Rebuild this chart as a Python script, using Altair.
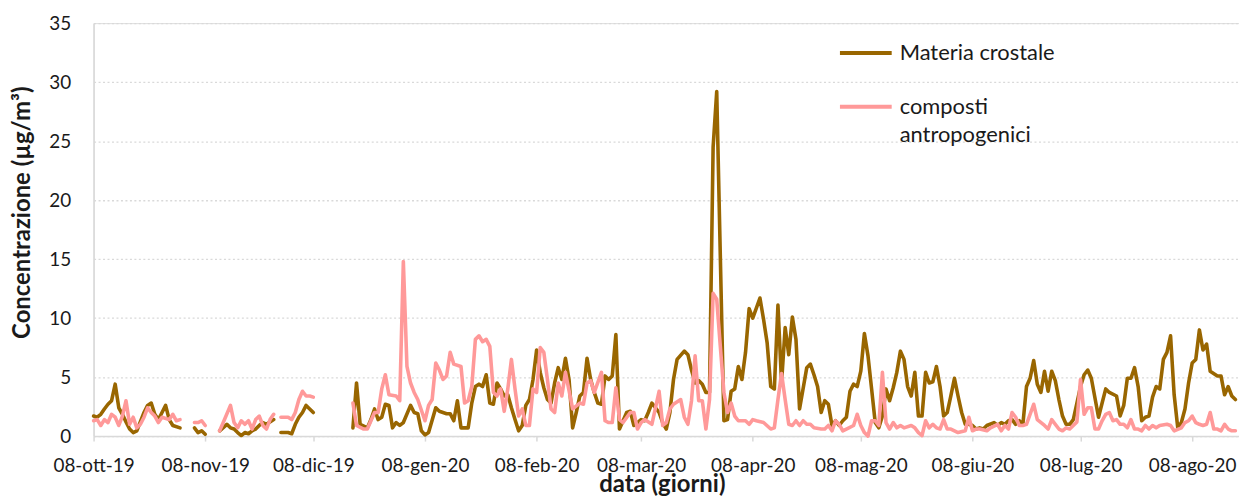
import altair as alt
import pandas as pd

# ---------------- data ----------------
START = "2019-10-08"          # first day of the series (day 0)
END = "2020-08-21"            # right end of the date axis
SERIES = ["Materia crostale", "composti antropogenici"]
COLORS = ["#996600", "#FF9999"]
GAP_DAYS = [26, 33, 51, 66]   # days without measurements (lines break there)

CRUSTAL_DAY = [0, 1, 2, 3, 4, 5, 6, 7, 8, 9, 10, 11, 12, 14, 15, 16, 17, 18, 19, 20, 21, 22, 24,
               28, 29, 30, 31,
               35, 37, 38, 39, 40, 41, 42, 43, 44, 45, 46, 47, 48, 50,
               52, 54, 55, 56, 57, 58, 59, 60, 61,
               72, 73, 74, 76, 77, 78, 79, 80, 81, 82, 83, 84, 85, 86, 88, 89, 90, 91, 92, 93, 95, 96,
               98, 99, 100, 101, 102, 104, 105, 106, 107, 108, 109, 110, 111, 112, 113, 114, 115, 116,
               117, 118, 119, 120, 121, 122, 123, 124, 125, 126, 127, 128, 129, 130, 131, 132, 133, 134,
               135, 136, 137, 138, 139, 140, 141, 142, 143, 144, 145, 146, 148, 149, 150, 151, 152, 153,
               154, 155, 156, 157, 158, 159, 160, 161, 162, 164, 165, 166, 167, 168, 169, 170, 171, 172,
               173, 175, 176, 177, 178, 179, 180, 181, 182, 183, 185, 186, 187, 188, 189, 190, 191, 192,
               193, 194, 195, 196, 198, 199, 200, 201, 202, 203, 204, 205, 206, 207, 208, 209, 210, 211,
               212, 213, 214, 215, 216, 217, 218, 219, 220, 221, 222, 223, 224, 225, 226, 227, 228, 229,
               230, 231, 232, 233, 234, 235, 236, 237, 238, 239, 240, 241, 242, 243, 244, 245, 246, 247,
               248, 250, 251, 252, 253, 254, 255, 256, 257, 258, 259, 260, 261, 262, 263, 264, 265, 266,
               267, 268, 269, 270, 271, 272, 273, 274, 275, 276, 277, 279, 280, 281, 282, 284, 285, 286,
               287, 288, 289, 290, 291, 292, 293, 294, 295, 296, 297, 298, 299, 300, 301, 302, 303, 304,
               305, 306, 307, 308, 309, 310, 312, 313, 314, 315, 316, 317]
CRUSTAL_VAL = [1.7, 1.6, 1.85, 2.3, 2.7, 3.0, 4.4, 2.4, 1.85, 1.2, 0.6, 0.3, 0.45, 2.0, 2.6, 2.8, 1.85, 1.4, 2.0, 2.6, 1.4, 0.9, 0.7,
               0.7, 0.3, 0.45, 0.15,
               0.45, 1.0, 0.7, 0.6, 0.3, 0.05, 0.3, 0.2, 0.45, 0.6, 0.9, 1.15, 1.0, 1.4,
               0.3, 0.3, 0.2, 1.0, 1.6, 2.0, 2.6, 2.3, 2.0,
               0.7, 4.5, 1.0, 0.7, 1.4, 2.3, 1.4, 1.6, 2.7, 2.6, 0.7, 1.15, 0.9, 1.15, 2.6, 2.0, 1.9, 0.45, 0.1, 0.3, 2.4, 2.1,
               1.9, 1.9, 1.3, 3.0, 0.7, 0.7, 2.8, 4.2, 4.4, 4.2, 5.2, 2.8, 2.7, 4.5, 4.0, 3.4, 3.5, 2.4,
               1.4, 0.45, 0.9, 2.6, 3.1, 4.8, 7.3, 5.4, 4.1, 3.1, 2.8, 4.5, 5.8, 4.8, 6.6, 4.8, 0.7, 2.0,
               3.4, 3.7, 6.6, 4.8, 3.7, 2.8, 2.7, 5.1, 4.8, 5.1, 8.6, 0.6, 2.0, 2.1, 0.9, 1.15, 1.4, 1.3,
               2.0, 2.8, 2.4, 2.0, 1.15, 0.6, 2.0, 4.8, 6.5, 7.2, 6.9, 5.6, 4.5, 4.7, 4.4, 3.7, 3.7, 24.5,
               29.2, 1.3, 1.4, 3.8, 4.0, 5.9, 4.8, 7.1, 10.8, 10.0, 11.7, 9.9, 7.9, 4.2, 4.0, 11.1, 4.5, 9.2,
               6.9, 10.1, 8.2, 2.3, 5.8, 6.1, 5.2, 4.2, 2.0, 3.0, 2.7, 0.9, 1.3, 0.9, 1.3, 1.6, 3.8, 4.4,
               4.2, 5.5, 8.7, 6.8, 4.0, 1.15, 0.7, 1.7, 4.0, 3.0, 4.1, 5.4, 7.2, 6.5, 4.2, 3.4, 5.4, 1.7,
               1.7, 5.4, 4.5, 4.6, 5.9, 4.2, 1.7, 2.0, 3.4, 4.9, 3.4, 2.0, 1.0, 1.0, 0.9, 0.6, 0.7, 0.6,
               0.9, 1.15, 0.9, 1.15, 1.0, 1.3, 1.4, 1.0, 1.3, 1.0, 4.2, 4.9, 6.4, 4.4, 3.7, 5.5, 3.8, 5.5,
               4.7, 3.1, 1.7, 1.0, 1.0, 1.4, 2.8, 4.2, 5.2, 5.6, 4.9, 1.6, 2.8, 4.0, 3.7, 3.4, 1.7, 2.6,
               4.9, 4.9, 5.8, 4.2, 1.3, 1.6, 1.7, 3.3, 4.2, 4.0, 6.5, 7.1, 8.5, 3.5, 0.7, 1.15, 2.3, 4.5,
               6.2, 6.5, 9.0, 7.3, 7.8, 5.5, 5.1, 5.1, 3.5, 4.2, 3.4, 3.1]

ANTHRO_DAY = [0, 1, 2, 3, 4, 5, 6, 7, 8, 9, 10, 11, 12, 13, 14, 15, 16, 17, 18, 19, 21, 22, 23, 24,
              28, 29, 30, 31,
              35, 36, 38, 39, 40, 41, 42, 43, 44, 45, 46, 47, 48, 49, 50,
              52, 54, 55, 56, 57, 58, 59, 60, 61,
              72, 73, 75, 76, 77, 78, 79, 80, 81, 82, 84, 85, 86, 87, 88, 89, 90, 92, 93, 94, 95, 96,
              97, 98, 99, 100, 102, 103, 104, 105, 106, 107, 108, 109, 110, 111, 112, 113, 114, 115,
              116, 117, 118, 119, 120, 121, 122, 123, 124, 125, 126, 127, 128, 129, 130, 131, 133, 135,
              136, 137, 138, 139, 141, 142, 143, 144, 145, 146, 147, 149, 150, 151, 152, 153, 155, 156,
              157, 158, 159, 160, 161, 163, 164, 165, 166, 167, 168, 169, 170, 171, 172, 173, 174, 175,
              176, 177, 178, 179, 181, 182, 183, 184, 186, 188, 189, 190, 191, 192, 193, 194, 195, 196,
              197, 198, 199, 200, 202, 203, 204, 205, 206, 207, 208, 209, 211, 212, 213, 214, 215, 216,
              217, 218, 219, 220, 221, 222, 223, 224, 225, 227, 228, 229, 230, 231, 232, 233, 234, 235,
              236, 237, 238, 239, 240, 242, 243, 244, 245, 246, 248, 249, 251, 252, 253, 254, 255, 256,
              257, 258, 259, 261, 262, 264, 265, 266, 268, 269, 270, 271, 273, 274, 275, 276, 277, 278,
              279, 280, 281, 282, 283, 284, 285, 286, 287, 288, 289, 290, 291, 292, 293, 294, 295, 296,
              298, 299, 300, 302, 303, 304, 305, 306, 307, 308, 309, 310, 311, 312, 313, 314, 315, 316, 317]
ANTHRO_VAL = [1.3, 1.4, 0.9, 1.4, 1.15, 1.85, 1.6, 0.9, 1.7, 3.0, 1.0, 1.6, 0.7, 1.0, 1.6, 2.4, 2.0, 1.7, 1.15, 1.6, 1.4, 1.85, 1.3, 1.4,
              1.15, 1.15, 1.3, 0.9,
              0.45, 1.15, 2.6, 1.15, 0.7, 1.3, 1.0, 1.3, 0.6, 1.4, 1.7, 0.9, 0.6, 1.4, 1.85,
              1.6, 1.6, 1.4, 2.0, 3.1, 3.8, 3.4, 3.4, 3.3,
              2.8, 0.9, 0.6, 0.6, 1.3, 2.0, 2.0, 4.0, 5.2, 3.5, 3.4, 3.0, 14.8, 5.9, 4.5, 3.7, 3.1, 1.3, 2.6, 3.1, 6.2, 5.6,
              4.8, 5.1, 7.1, 6.1, 5.9, 2.8, 3.0, 4.2, 8.2, 8.5, 8.0, 8.2, 7.6, 3.7, 3.4, 4.0, 2.1, 4.0,
              6.5, 4.0, 1.7, 2.3, 0.9, 0.9, 4.0, 3.7, 7.5, 7.1, 4.8, 2.3, 2.0, 4.5, 3.4, 5.4, 2.3, 2.8,
              2.7, 4.5, 4.7, 3.7, 5.4, 1.3, 1.15, 1.15, 4.1, 1.4, 1.15, 2.0, 2.0, 0.6, 1.15, 1.4, 1.0, 2.4,
              3.8, 0.9, 1.15, 2.3, 2.7, 3.1, 1.6, 1.0, 3.0, 6.8, 3.0, 3.0, 0.6, 3.1, 12.1, 11.6, 7.6, 3.7,
              2.0, 2.8, 1.7, 1.3, 1.3, 1.0, 1.4, 1.3, 1.15, 0.6, 0.7, 3.1, 5.3, 3.1, 1.0, 0.9, 1.3, 0.9,
              1.3, 1.0, 1.0, 0.7, 0.6, 0.6, 0.9, 0.45, 1.3, 1.0, 0.45, 0.6, 0.9, 1.85, 0.9, 0.3, 0.0, 1.3,
              1.3, 0.9, 5.4, 1.15, 0.6, 1.15, 0.7, 0.9, 0.7, 0.9, 0.7, 0.3, 0.05, 1.3, 0.7, 1.0, 0.7, 0.6,
              1.4, 0.6, 0.6, 0.45, 0.3, 0.45, 1.6, 0.45, 0.6, 0.6, 0.45, 0.7, 1.0, 0.45, 0.9, 0.6, 2.0, 1.6,
              0.9, 0.9, 1.0, 2.7, 1.4, 0.9, 0.6, 1.4, 0.6, 0.45, 0.7, 0.6, 1.2, 4.8, 1.85, 2.4, 2.4, 0.6,
              0.6, 1.3, 1.85, 2.0, 1.3, 1.4, 1.0, 1.0, 0.7, 1.4, 0.6, 0.6, 0.45, 0.9, 0.6, 0.9, 0.7, 0.9,
              1.0, 0.9, 0.45, 0.7, 1.15, 1.3, 1.7, 1.15, 1.0, 0.9, 1.0, 2.0, 0.6, 0.6, 0.45, 1.0, 0.6, 0.45, 0.45]

TICK_DATES = ["2019-10-08", "2019-11-08", "2019-12-08", "2020-01-08", "2020-02-08", "2020-03-08",
              "2020-04-08", "2020-05-08", "2020-06-08", "2020-07-08", "2020-08-08"]
MONTHS_IT = ["gen", "feb", "mar", "apr", "mag", "giu", "lug", "ago", "set", "ott", "nov", "dic"]
Y_TICKS = [0, 5, 10, 15, 20, 25, 30, 35]

# ---------------- table ----------------
rows = []
for name, days, vals in ((SERIES[0], CRUSTAL_DAY, CRUSTAL_VAL), (SERIES[1], ANTHRO_DAY, ANTHRO_VAL)):
    for d, v in zip(days, vals):
        seg = sum(1 for g in GAP_DAYS if g < d)
        rows.append({"date": pd.Timestamp(START) + pd.Timedelta(days=d),
                     "value": v, "series": name, "seg": f"{name}-{seg}"})
df = pd.DataFrame(rows)


def dt(s):
    return alt.DateTime(year=int(s[:4]), month=int(s[5:7]), date=int(s[8:10]))


months_js = "[" + ",".join(f"'{m}'" for m in MONTHS_IT) + "]"
x_label_expr = ("timeFormat(datum.value, '%d') + '-' + " + months_js +
                "[month(datum.value)] + '-' + timeFormat(datum.value, '%y')")

FONT = "Lato"
GRID = "#D9D9D9"
TXT = "#1a1a1a"

chart = alt.Chart(df).mark_line(strokeWidth=3.6, strokeJoin="round", strokeCap="round").encode(
    x=alt.X("date:T",
            scale=alt.Scale(domain=[dt(START), dt(END)], nice=False),
            axis=alt.Axis(values=[dt(s) for s in TICK_DATES], labelExpr=x_label_expr,
                          title="data (giorni)", grid=False,
                          ticks=True, tickSize=5, tickColor=GRID, tickWidth=1.5,
                          domainColor=GRID, domainWidth=1.5,
                          labelFont=FONT, labelFontSize=19, labelColor=TXT, labelPadding=16,
                          labelFlush=False, labelOverlap=False,
                          titleFont=FONT, titleFontSize=24, titleFontWeight="bold", titleColor=TXT,
                          titleX=571, titleY=49, titleBaseline="middle", titleAlign="center")),
    y=alt.Y("value:Q",
            scale=alt.Scale(domain=[0, 35], nice=False),
            axis=alt.Axis(values=Y_TICKS, title="Concentrazione (µg/m³)",
                          grid=True, gridColor=GRID, gridDash=[2, 2.5], gridWidth=1.3,
                          ticks=False, domainColor=GRID, domainWidth=1.5,
                          labelFont=FONT, labelFontSize=19, labelColor=TXT, labelPadding=23,
                          titleFont=FONT, titleFontSize=24, titleFontWeight="bold", titleColor=TXT,
                          titleX=-71, titleY=190, titleBaseline="middle", titleAlign="center",
                          titleAngle=270)),
    color=alt.Color("series:N",
                    scale=alt.Scale(domain=SERIES, range=COLORS),
                    legend=alt.Legend(title=None, orient="none", legendX=748, legendY=2,
                                      symbolType="stroke", symbolSize=2704, symbolStrokeWidth=4,
                                      labelFont=FONT, labelFontSize=22, labelColor=TXT,
                                      labelOffset=6, labelLimit=400, rowPadding=15, padding=0,
                                      labelExpr="datum.label == 'composti antropogenici' ? "
                                                "['composti', 'antropogenici'] : datum.label")),
    detail="seg:N",
).properties(
    width=1151, height=415,
    padding={"left": 86, "top": 14, "right": 0, "bottom": 60},
    autosize=alt.AutoSizeParams(type="none"),
).configure_view(stroke=None).configure(
    background="white",
    style={"guide-label": {"lineHeight": 28}},
)

chart.save("out.html", embed_options={"renderer": "svg", "actions": False})
